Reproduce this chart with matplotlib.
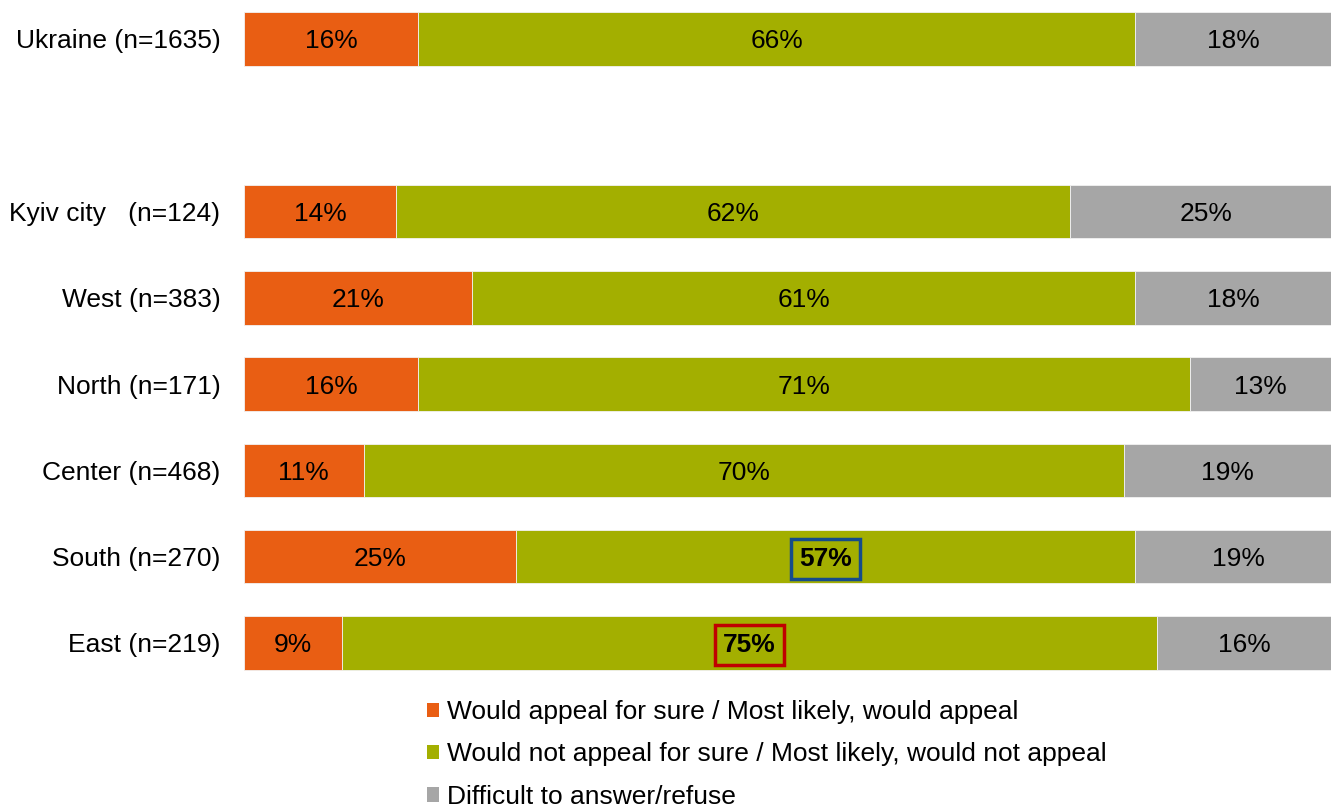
import matplotlib
matplotlib.use("Agg")
import matplotlib.pyplot as plt
from matplotlib.patches import Patch

plt.rcParams['font.family'] = ['Liberation Sans', 'DejaVu Sans']

# Survey results (percent of respondents)
regions = ["Ukraine (n=1635)", "Kyiv city   (n=124)", "West (n=383)", "North (n=171)",
           "Center (n=468)", "South (n=270)", "East (n=219)"]
would_appeal = [16, 14, 21, 16, 11, 25, 9]
would_not_appeal = [66, 62, 61, 71, 70, 57, 75]
difficult = [18, 25, 18, 13, 19, 19, 16]
series_names = ["Would appeal for sure / Most likely, would appeal",
                "Would not appeal for sure / Most likely, would not appeal",
                "Difficult to answer/refuse"]
colors = ["#E95E13", "#A3AF00", "#A6A6A6"]

# Row positions: an empty row separates the national total from the regions
positions = [0, 2, 3, 4, 5, 6, 7]
highlight = {5: "#154C8A", 6: "#C00000"}  # region index -> frame colour for the middle label

fig = plt.figure(figsize=(13.31, 8.11), dpi=100)
ax = fig.add_axes([244 / 1331, 1 - 680 / 811, 1 - 244 / 1331, 680 / 811])

fs = 19
series = [would_appeal, would_not_appeal, difficult]
for i, (region, y) in enumerate(zip(regions, positions)):
    left = 0
    for s, (vals, col) in enumerate(zip(series, colors)):
        v = vals[i]
        ax.barh(y, v, left=left, height=0.62, color=col, edgecolor="#F2F2F2", linewidth=0.6)
        cx = left + v / 2
        if s == 1 and i in highlight:
            ax.text(cx, y, f"{v}%", ha="center", va="center_baseline", fontsize=fs,
                    fontweight="bold", color="black",
                    bbox=dict(boxstyle="square,pad=0.3", facecolor="none",
                              edgecolor=highlight[i], linewidth=2.5))
        else:
            ax.text(cx, y, f"{v}%", ha="center", va="center_baseline", fontsize=fs,
                    color="black")
        left += v

ax.set_xlim(0, 100)
ax.set_ylim(7.43, -0.452)
ax.set_yticks(positions)
ax.set_yticklabels(regions, fontsize=fs)
ax.tick_params(axis="y", length=0, pad=17)
ax.set_xticks([])
for sp in ax.spines.values():
    sp.set_visible(False)

handles = [Patch(facecolor=c, edgecolor="none") for c in colors]
fig.legend(handles, series_names, loc="upper left",
           bbox_to_anchor=(427 / 1331, 1 - 700 / 811), frameon=False,
           fontsize=fs, handlelength=0.45, handleheight=0.45, handletextpad=0.3,
           labelspacing=0.7, borderaxespad=0, borderpad=0)

fig.savefig("out.png", dpi=100)
